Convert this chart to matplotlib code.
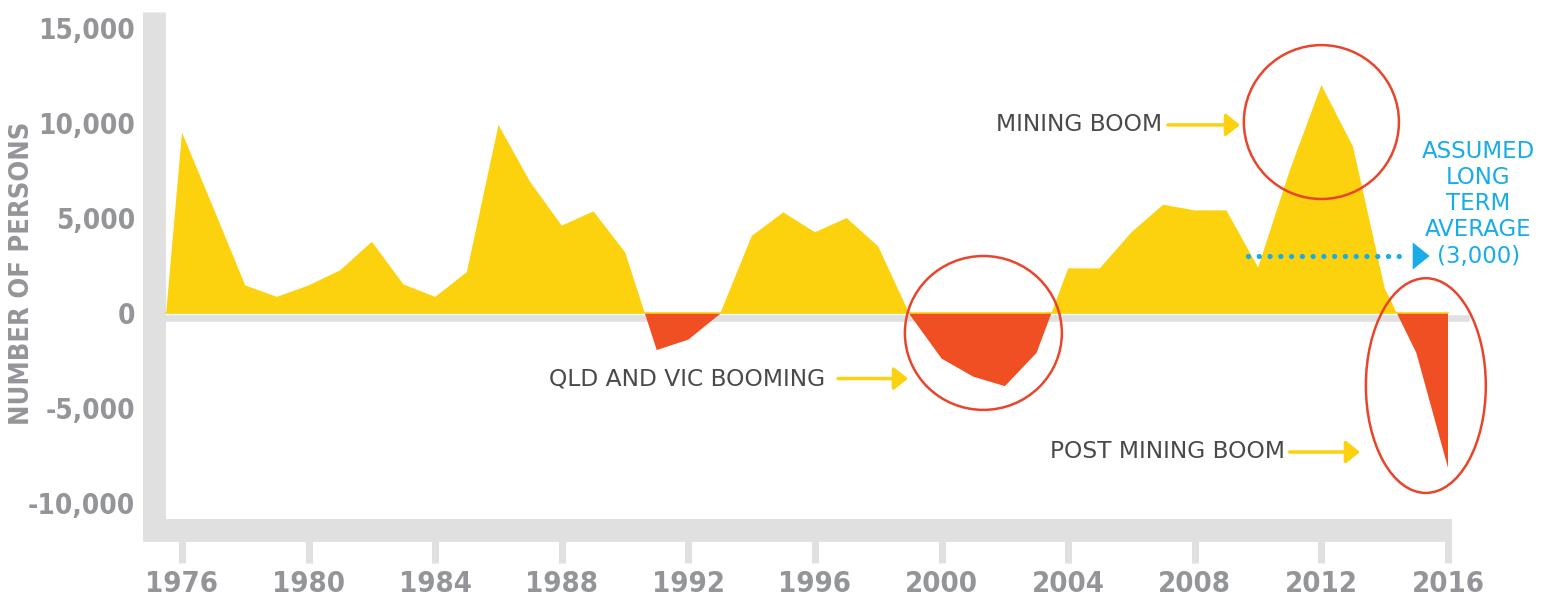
import numpy as np
import matplotlib.pyplot as plt
from matplotlib import font_manager
from matplotlib.patches import Ellipse
from matplotlib.transforms import ScaledTranslation

# data (net interstate migration, persons per year)
years = np.array([1975.5, 1976, 1977, 1978, 1979, 1980, 1981, 1982, 1983, 1984,
                  1985, 1986, 1987, 1988, 1989, 1990, 1991, 1992, 1993, 1994,
                  1995, 1996, 1997, 1998, 1999, 2000, 2001, 2002, 2003, 2004,
                  2005, 2006, 2007, 2008, 2009, 2010, 2011, 2012, 2013, 2014,
                  2015, 2016])
persons = np.array([0, 9500, 5500, 1450, 850, 1450, 2250, 3750, 1500, 850,
                    2150, 9900, 6900, 4600, 5350, 3200, -1950, -1400, -50, 4050,
                    5300, 4250, 5000, 3500, -100, -2400, -3350, -3850, -2100, 2350,
                    2350, 4250, 5700, 5400, 5400, 2400, 7500, 12000, 8750, 1300,
                    -2100, -8150])
long_term_avg = 3000
xticks = np.arange(1976, 2017, 4)
yticks = [-10000, -5000, 0, 5000, 10000, 15000]

yellow = '#fcd20f'
red = '#f04e23'
ring = '#e8452c'
blue = '#18ace8'
axis_grey = '#e0e0e0'
label_grey = '#939598'
note_grey = '#4a4a4a'
note_font = 'DejaVu Sans'

# look for a narrow bold face, fall back to Roboto
tick_font = dict(family='Roboto', weight='bold')
scale = 0.9
for f in font_manager.fontManager.ttflist:
    narrow = 'Narrow' in f.name or 'Condensed' in f.name or f.stretch in (
        'condensed', 'semi-condensed', 'extra-condensed', 300)
    if narrow and f.weight in ('bold', 700):
        tick_font = dict(family=f.name, weight='bold', stretch=f.stretch)
        scale = 1.0
        break

fig = plt.figure(figsize=(15.44, 5.96), dpi=100)
ax = fig.add_axes([0.10006, 0.10990, 0.85201, 0.86997])
ax.set_xlim(1975.131, 2016.695)
ax.set_ylim(-11447, 15842)

# zero line, sits just under the baseline
zl = ax.axhline(0, xmin=0.0095, xmax=0.9966, color=axis_grey, lw=4.7, zorder=1)
zl.set_transform(zl.get_transform() + ScaledTranslation(0, -0.045, fig.dpi_scale_trans))

ax.fill_between(years, persons, 0, where=persons >= 0, interpolate=True,
                color=yellow, lw=0, zorder=2)
ax.fill_between(years, persons, 0, where=persons <= 0, interpolate=True,
                color=red, lw=0, zorder=2)
ax.plot([years[0], years[-1]], [0, 0], color=yellow, lw=1.2, zorder=3)

# frame
for s in ['top', 'right']:
    ax.spines[s].set_visible(False)
for s in ['left', 'bottom']:
    ax.spines[s].set_color(axis_grey)
    ax.spines[s].set_linewidth(16.5)
ax.spines['left'].set_capstyle('butt')
ax.spines['bottom'].set_capstyle('projecting')
ax.spines['bottom'].set_bounds(1975.131, 2015.75)

ax.set_xticks(xticks)
ax.set_yticks(yticks)
ax.set_yticklabels([f'{v:,}' for v in yticks])
ax.tick_params(axis='x', direction='out', length=23.8, width=5, color=axis_grey,
               pad=4.5, labelsize=21 * scale, labelcolor=label_grey)
ax.tick_params(axis='y', length=0, pad=14, labelsize=20 * scale, labelcolor=label_grey)
for lab in ax.get_xticklabels() + ax.get_yticklabels():
    lab.set_fontfamily(tick_font['family'])
    lab.set_fontweight('bold')
    if 'stretch' in tick_font:
        lab.set_fontstretch(tick_font['stretch'])

fig.text(22 / 1544, 1 - 273 / 596, 'NUMBER OF PERSONS', rotation=90,
         ha='center', va='center', color=label_grey,
         fontproperties=font_manager.FontProperties(**tick_font, size=19.5 * scale))

# hand drawn rings
ax.add_patch(Ellipse((2012.0, 10050), 4.9, 8100, fill=False, ec=ring, lw=1.8, zorder=4))
ax.add_patch(Ellipse((2001.32, -1050), 4.96, 8100, fill=False, ec=ring, lw=1.8, zorder=4))
ax.add_patch(Ellipse((2015.3, -3820), 3.79, 11300, fill=False, ec=ring, lw=1.8,
                     zorder=4, clip_on=False))

# notes with arrows
arrow_style = '-|>,head_length=0.25,head_width=0.2'
notes = [('MINING BOOM', 2006.96, 2007.15, 2009.43, 9900),
         ('QLD AND VIC BOOMING', 1996.32, 1996.73, 1998.94, -3450),
         ('POST MINING BOOM', 2010.85, 2011.0, 2013.22, -7315)]
for txt, tx, a0, a1, yv in notes:
    ax.text(tx, yv, txt, ha='right', va='center', fontsize=16.8,
            family=note_font, color=note_grey)
    ax.annotate('', xy=(a1, yv), xytext=(a0, yv),
                arrowprops=dict(arrowstyle=arrow_style, color=yellow, lw=2.5,
                                mutation_scale=34, shrinkA=0, shrinkB=0))

# long term average marker
ax.plot([2009.68, 2014.64], [long_term_avg, long_term_avg], color=blue, lw=3.8,
        linestyle=(0, (0.01, 2.03)), dash_capstyle='round', zorder=5)
ax.annotate('', xy=(2015.42, long_term_avg), xytext=(2014.88, long_term_avg),
            arrowprops=dict(arrowstyle='-|>,head_length=0.61,head_width=0.49',
                            color=blue, lw=0, mutation_scale=20,
                            shrinkA=0, shrinkB=0), zorder=5)
ax.text(2016.95, 5740, 'ASSUMED\nLONG\nTERM\nAVERAGE\n(3,000)', ha='center',
        va='center', multialignment='center', fontsize=16.5, family=note_font,
        color=blue, linespacing=1.17)

fig.savefig('out.png', dpi=100)
